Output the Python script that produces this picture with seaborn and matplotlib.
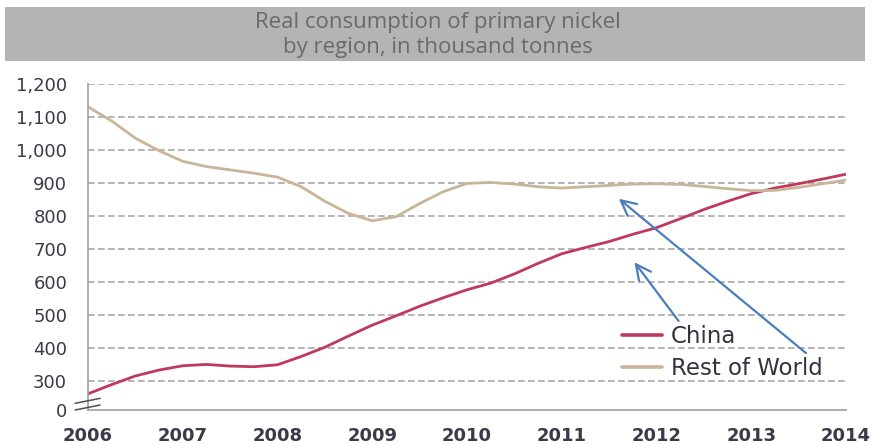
import pandas as pd
import matplotlib
matplotlib.use("Agg")
import matplotlib.pyplot as plt
import seaborn as sns
from matplotlib.patches import Rectangle

# quarter-year readings, thousand tonnes
years = [2006.0, 2006.25, 2006.5, 2006.75, 2007.0, 2007.25, 2007.5, 2007.75,
         2008.0, 2008.25, 2008.5, 2008.75, 2009.0, 2009.25, 2009.5, 2009.75,
         2010.0, 2010.25, 2010.5, 2010.75, 2011.0, 2011.25, 2011.5, 2011.75,
         2012.0, 2012.25, 2012.5, 2012.75, 2013.0, 2013.25, 2013.5, 2013.75, 2014.0]
china = [262, 290, 316, 334, 347, 351, 346, 344,
         350, 375, 403, 437, 470, 498, 527, 553,
         577, 597, 625, 657, 686, 705, 723, 745,
         765, 792, 820, 845, 868, 885, 898, 912, 927]
rest_of_world = [1131, 1088, 1036, 998, 966, 950, 940, 930,
                 918, 889, 845, 808, 786, 798, 838, 874,
                 899, 902, 897, 889, 885, 889, 893, 897,
                 898, 896, 890, 883, 877, 878, 887, 898, 909]

year_ticks = [2006, 2007, 2008, 2009, 2010, 2011, 2012, 2013, 2014]
y_ticks = [213, 300, 400, 500, 600, 700, 800, 900, 1000, 1100, 1200]
y_labels = ["0", "300", "400", "500", "600", "700", "800", "900", "1,000", "1,100", "1,200"]

colors = {"China": "#c0395c", "Rest of World": "#c9b598"}

df = pd.concat([
    pd.DataFrame({"year": years, "value": china, "region": "China"}),
    pd.DataFrame({"year": years, "value": rest_of_world, "region": "Rest of World"}),
])

sns.set_theme(style="white")
plt.rcParams["font.family"] = ["DejaVu Sans"]

fig = plt.figure(figsize=(8.77, 4.44), dpi=100)
ax = fig.add_axes([88 / 877, 1 - 410 / 444, 758 / 877, 326 / 444])

sns.lineplot(data=df, x="year", y="value", hue="region", palette=colors,
             linewidth=2.0, ax=ax, legend=False)

ax.set_xlim(2006, 2014)
ax.set_ylim(213, 1200)
ax.set_xticks(year_ticks)
ax.set_xticklabels([str(y) for y in year_ticks], fontsize=13, fontweight="bold",
                   color="#3a3a48")
ax.set_yticks(y_ticks)
ax.set_yticklabels(y_labels, fontsize=13, color="#3a3a48")
ax.tick_params(axis="x", length=0, pad=12)
ax.tick_params(axis="y", length=0, pad=15)
ax.set_xlabel("")
ax.set_ylabel("")

# dashed gridlines
for v in y_ticks[1:]:
    ax.axhline(v, color="#a8a8a8", lw=1.2, ls=(0, (4, 2)), zorder=0)

for side in ["top", "right"]:
    ax.spines[side].set_visible(False)
for side in ["left", "bottom"]:
    ax.spines[side].set_color("#a0a0a0")
    ax.spines[side].set_linewidth(1.2)

# axis break marks
for dy in (0.0, 0.0205):
    ax.plot([-0.017, 0.016], [0.0 + dy, 0.0153 + dy], transform=ax.transAxes,
            color="#505050", lw=1.1, clip_on=False, zorder=5)

# legend
handles = [plt.Line2D([], [], color=colors[k], lw=2.6) for k in colors]
ax.legend(handles, list(colors), loc="center left", bbox_to_anchor=(0.698, 0.176),
          frameon=False, fontsize=16.5, handlelength=1.75, labelspacing=0.4,
          labelcolor="#333340", handletextpad=0.4, borderpad=0.2, borderaxespad=0)

# arrows
arrow_kw = dict(arrowstyle="->,head_length=0.9,head_width=0.45", color="#4a7ebb", lw=1.6)
ax.annotate("", xy=(2011.75, 667), xytext=(2012.25, 476), arrowprops=arrow_kw)
ax.annotate("", xy=(2011.58, 858), xytext=(2013.60, 380), arrowprops=arrow_kw)

# title box
fig.patches.append(Rectangle((5 / 877, 1 - 61 / 444), 860 / 877, 54 / 444,
                             transform=fig.transFigure, facecolor="#b4b4b4",
                             edgecolor="none", zorder=0))
fig.text(438 / 877, 1 - 35 / 444,
         "Real consumption of primary nickel\nby region, in thousand tonnes",
         ha="center", va="center", fontsize=16, color="#6a6a6a",
         family=["Open Sans", "DejaVu Sans"], linespacing=1.2)

fig.savefig("out.png", dpi=100)
